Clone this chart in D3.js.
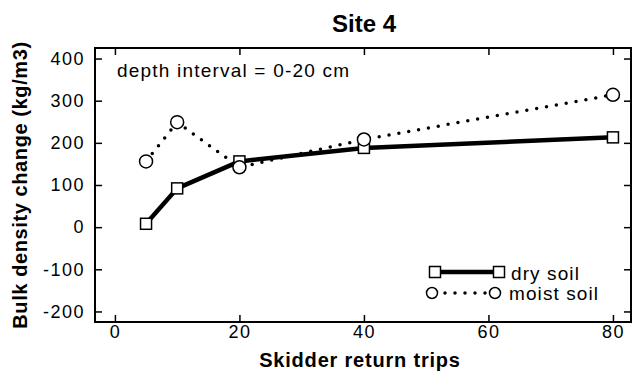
<!DOCTYPE html>
<html>
<head>
<meta charset="utf-8">
<script src="https://cdn.jsdelivr.net/npm/d3@7"></script>
<style>
  body { margin: 0; background: #fff; }
  text { font-family: "Liberation Sans", Arial, sans-serif; fill: #000; }
</style>
</head>
<body>
<svg id="chart" width="635" height="371"></svg>
<script>
// values
const trips = [5, 10, 20, 40, 80];
const drySoil = [8, 92, 156, 188, 213];
const moistSoil = [156, 249, 142, 208, 314];
const xTicks = [0, 20, 40, 60, 80];
const yTicks = [-200, -100, 0, 100, 200, 300, 400];
const seriesNames = ["dry soil", "moist soil"];

const svg = d3.select("#chart");
const plotLeft = 95, plotRight = 631, plotTop = 48, plotBottom = 322;

const x = d3.scaleLinear().domain([-3.2, 82.9]).range([plotLeft, plotRight]);
const y = d3.scaleLinear().domain([-225, 425]).range([plotBottom, plotTop]);

// frame
svg.append("rect")
    .attr("x", plotLeft).attr("y", plotTop)
    .attr("width", plotRight - plotLeft).attr("height", plotBottom - plotTop)
    .attr("fill", "none").attr("stroke", "#000").attr("stroke-width", 2);

// axes, ticks pointing inward; plain hyphen for negatives like the original
const tickLen = 7;
const plain = d => String(d);
svg.append("g")
    .attr("transform", `translate(0,${plotBottom})`)
    .call(d3.axisBottom(x).tickValues(xTicks).tickFormat(plain).tickSizeInner(-tickLen).tickSizeOuter(0).tickPadding(3))
    .call(g => g.select(".domain").remove())
    .call(g => g.selectAll("text").attr("font-size", 18).attr("letter-spacing", 1.5).attr("font-family", null));
svg.append("g")
    .attr("transform", `translate(0,${plotTop})`)
    .call(d3.axisTop(x).tickValues(xTicks).tickSizeInner(-tickLen).tickSizeOuter(0).tickFormat(""))
    .call(g => g.select(".domain").remove());
svg.append("g")
    .attr("transform", `translate(${plotLeft},0)`)
    .call(d3.axisLeft(y).tickValues(yTicks).tickFormat(plain).tickSizeInner(-tickLen).tickSizeOuter(0).tickPadding(10))
    .call(g => g.select(".domain").remove())
    .call(g => g.selectAll("text").attr("font-size", 18).attr("letter-spacing", 1.5).attr("font-family", null));
svg.append("g")
    .attr("transform", `translate(${plotRight},0)`)
    .call(d3.axisRight(y).tickValues(yTicks).tickSizeInner(-tickLen).tickSizeOuter(0).tickFormat(""))
    .call(g => g.select(".domain").remove());
svg.selectAll(".tick line").attr("stroke-width", 1.5);

// titles
svg.append("text").attr("x", 364).attr("y", 32).attr("text-anchor", "middle")
    .attr("font-size", 24).attr("font-weight", "bold").text("Site 4");
svg.append("text").attr("x", 360).attr("y", 367).attr("text-anchor", "middle")
    .attr("font-size", 20).attr("font-weight", "bold").attr("letter-spacing", 0.8)
    .text("Skidder return trips");
svg.append("text")
    .attr("transform", `translate(27,185) rotate(-90)`)
    .attr("text-anchor", "middle")
    .attr("font-size", 20).attr("font-weight", "bold").attr("letter-spacing", 0.6)
    .text("Bulk density change (kg/m3)");
svg.append("text").attr("x", 117).attr("y", 77)
    .attr("font-size", 19).attr("letter-spacing", 1.2).text("depth interval = 0-20 cm");

// series
const dry = trips.map((t, i) => ({ t, v: drySoil[i] }));
const moist = trips.map((t, i) => ({ t, v: moistSoil[i] }));
const line = d3.line().x(d => x(d.t)).y(d => y(d.v));

svg.append("path").datum(dry)
    .attr("d", line).attr("fill", "none")
    .attr("stroke", "#000").attr("stroke-width", 4.5).attr("stroke-linejoin", "round");
svg.selectAll(".sq").data(dry).enter().append("rect")
    .attr("class", "sq")
    .attr("x", d => x(d.t) - 5.5).attr("y", d => y(d.v) - 5.5)
    .attr("width", 11).attr("height", 11)
    .attr("fill", "#fff").attr("stroke", "#000").attr("stroke-width", 1.5);

svg.append("path").datum(moist)
    .attr("d", line).attr("fill", "none")
    .attr("stroke", "#000").attr("stroke-width", 3.5)
    .attr("stroke-dasharray", "0,10").attr("stroke-linecap", "round");
svg.selectAll(".ci").data(moist).enter().append("circle")
    .attr("class", "ci")
    .attr("cx", d => x(d.t)).attr("cy", d => y(d.v)).attr("r", 6.5)
    .attr("fill", "#fff").attr("stroke", "#000").attr("stroke-width", 1.5);

// legend
const lg = svg.append("g");
lg.append("line").attr("x1", 435).attr("x2", 499).attr("y1", 272).attr("y2", 272)
    .attr("stroke", "#000").attr("stroke-width", 4.5);
[435, 499].forEach(cx => lg.append("rect")
    .attr("x", cx - 5.5).attr("y", 266.5).attr("width", 11).attr("height", 11)
    .attr("fill", "#fff").attr("stroke", "#000").attr("stroke-width", 1.5));
lg.append("text").attr("x", 511).attr("y", 280).attr("font-size", 19)
    .attr("letter-spacing", 1.1).text(seriesNames[0]);

lg.append("line").attr("x1", 442).attr("x2", 486).attr("y1", 293).attr("y2", 293)
    .attr("stroke", "#000").attr("stroke-width", 3.5)
    .attr("stroke-dasharray", "0,10").attr("stroke-linecap", "round")
    .attr("stroke-dashoffset", -3);
[432, 495].forEach(cx => lg.append("circle")
    .attr("cx", cx).attr("cy", 293).attr("r", 5.5)
    .attr("fill", "#fff").attr("stroke", "#000").attr("stroke-width", 1.5));
lg.append("text").attr("x", 509).attr("y", 300).attr("font-size", 19)
    .attr("letter-spacing", 1.1).text(seriesNames[1]);
</script>
</body>
</html>
